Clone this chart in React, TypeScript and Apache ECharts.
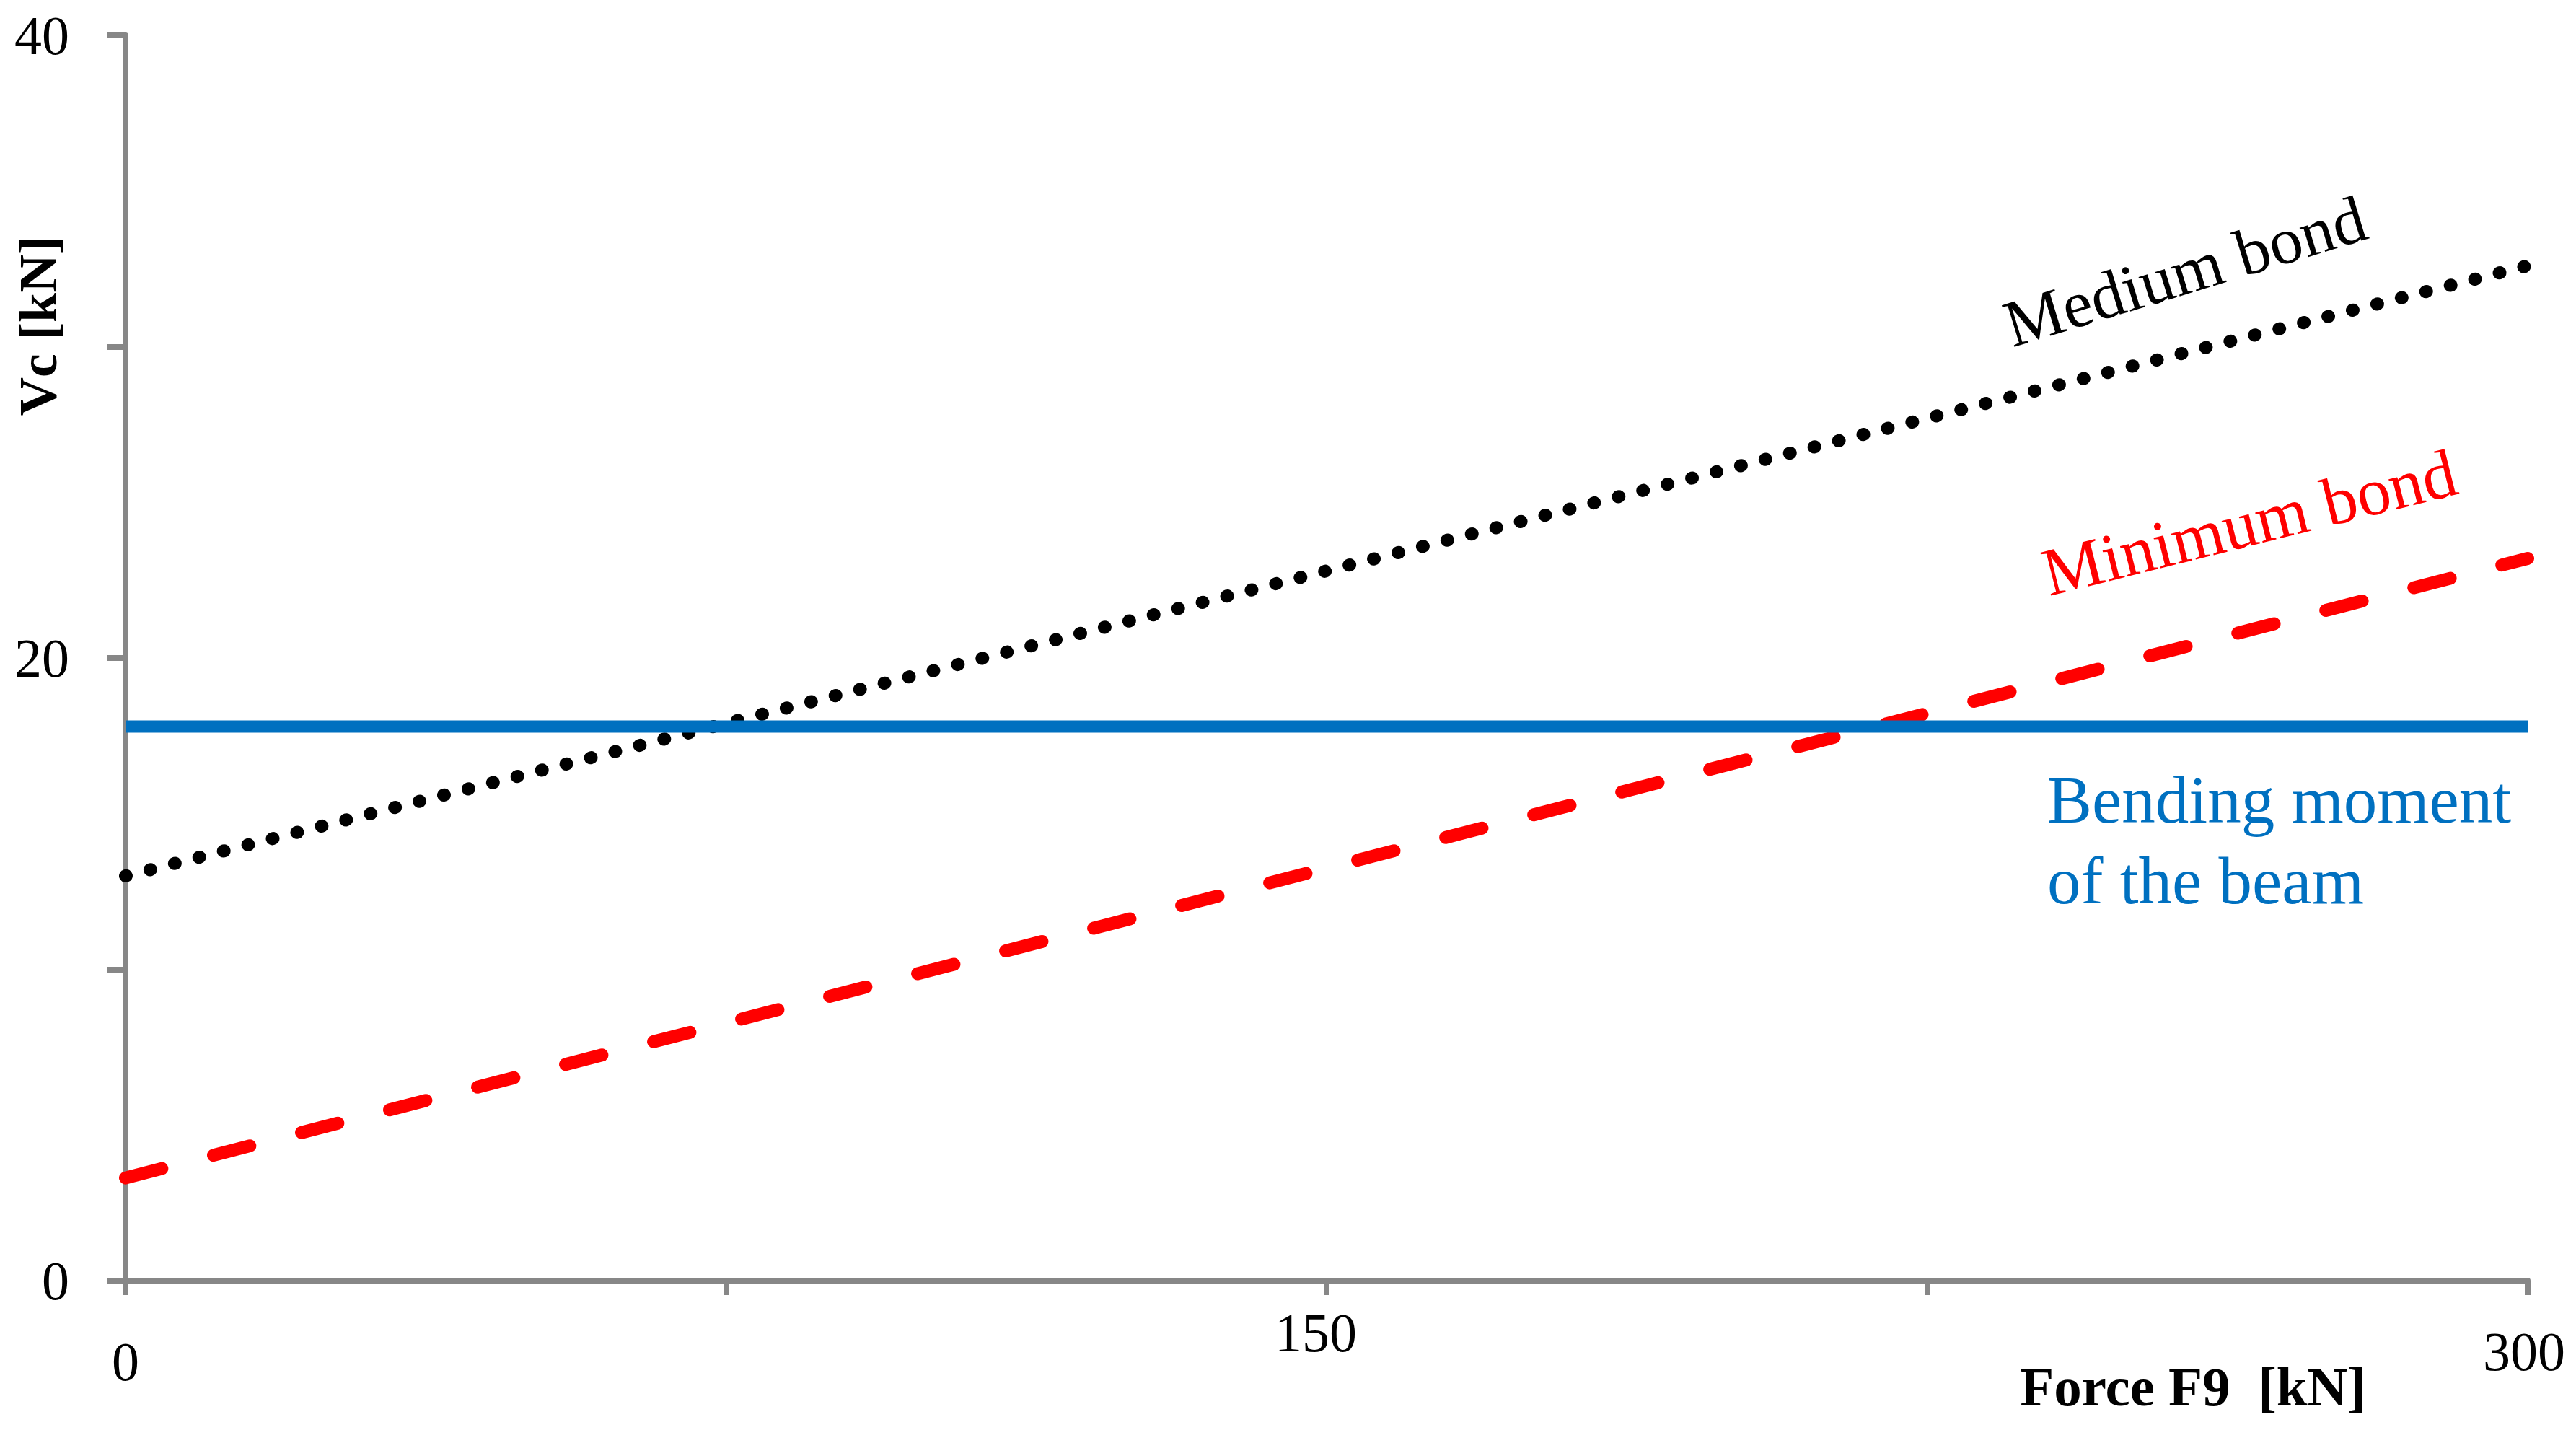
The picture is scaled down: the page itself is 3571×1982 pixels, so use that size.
import React, { useEffect, useRef } from "react";
import * as echarts from "echarts";

const forceF9 = [0, 300];
const bendingMoment = [17.8, 17.8];
const mediumBond = [13.0, 32.6];
const minimumBond = [3.3, 23.2];
const xTickLabels = ["0", "150", "300"];
const yTickLabels = ["0", "20", "40"];

const SERIF = '"Liberation Serif", "Times New Roman", serif';
const AXIS_GRAY = "#878787";
const BLUE = "#0070C0";
const RED = "#FF0000";

export default function App() {
  const ref = useRef<HTMLDivElement>(null);

  useEffect(() => {
    document.body.style.margin = "0";
    const chart = echarts.init(ref.current!, null, { renderer: "svg" });
    const pairs = (ys: number[]) => forceF9.map((x, i) => [x, ys[i]]);

    chart.setOption({
      animation: false,
      backgroundColor: "#ffffff",
      grid: { left: 174, right: 67, top: 49, bottom: 207, containLabel: false },
      xAxis: {
        type: "value",
        min: 0,
        max: 300,
        interval: 75,
        axisLine: { show: true, lineStyle: { color: AXIS_GRAY, width: 8 } },
        axisTick: { show: true, length: 20, lineStyle: { color: AXIS_GRAY, width: 8 } },
        splitLine: { show: false },
        axisLabel: {
          margin: 34,
          color: "#000",
          fontFamily: SERIF,
          fontSize: 76,
          formatter: (v: number) => {
            const s = String(v);
            if (!xTickLabels.includes(s)) return "";
            if (s === "0") return "{a|" + s + "}";
            if (s === "150") return "{b|" + s + "}";
            return "{c|" + s + "}";
          },
          rich: {
            a: { fontFamily: SERIF, fontSize: 76, color: "#000", padding: [40, 0, 0, 0] },
            b: { fontFamily: SERIF, fontSize: 76, color: "#000", padding: [0, 30, 0, 0] },
            c: { fontFamily: SERIF, fontSize: 76, color: "#000", padding: [26, 10, 0, 0] },
          },
        },
      },
      yAxis: {
        type: "value",
        min: 0,
        max: 40,
        interval: 10,
        axisLine: { show: true, lineStyle: { color: AXIS_GRAY, width: 8 } },
        axisTick: { show: true, length: 25, lineStyle: { color: AXIS_GRAY, width: 8 } },
        splitLine: { show: false },
        axisLabel: {
          margin: 78,
          color: "#000",
          fontFamily: SERIF,
          fontSize: 76,
          formatter: (v: number) => (yTickLabels.includes(String(v)) ? String(v) : ""),
        },
      },
      series: [
        {
          name: "Minimum bond",
          type: "line",
          data: pairs(minimumBond),
          showSymbol: false,
          symbol: "none",
          z: 2,
          lineStyle: { color: RED, width: 18, type: [52, 74], cap: "round" },
        },
        {
          name: "Medium bond",
          type: "line",
          data: pairs(mediumBond),
          showSymbol: false,
          symbol: "none",
          z: 3,
          lineStyle: { color: "#000", width: 18, type: [1, 34], cap: "round" },
        },
        {
          name: "Bending moment of the beam",
          type: "line",
          data: pairs(bendingMoment),
          showSymbol: false,
          symbol: "none",
          z: 4,
          lineStyle: { color: BLUE, width: 17, type: "solid" },
        },
      ],
      graphic: [
        {
          type: "text",
          x: 53,
          y: 452,
          rotation: Math.PI / 2,
          style: {
            text: "Vc [kN]",
            fill: "#000",
            fontFamily: SERIF,
            fontWeight: "bold",
            fontSize: 74,
            align: "center",
            verticalAlign: "middle",
          },
        },
        {
          type: "text",
          x: 3040,
          y: 1922,
          style: {
            text: "Force F9  [kN]",
            fill: "#000",
            fontFamily: SERIF,
            fontWeight: "bold",
            fontSize: 77,
            align: "center",
            verticalAlign: "middle",
          },
        },
        {
          type: "text",
          x: 3029,
          y: 376,
          rotation: (17 * Math.PI) / 180,
          style: {
            text: "Medium bond",
            fill: "#000",
            fontFamily: SERIF,
            fontSize: 92,
            align: "center",
            verticalAlign: "middle",
          },
        },
        {
          type: "text",
          x: 3118,
          y: 724,
          rotation: (14 * Math.PI) / 180,
          style: {
            text: "Minimum bond",
            fill: RED,
            fontFamily: SERIF,
            fontSize: 94,
            align: "center",
            verticalAlign: "middle",
          },
        },
        {
          type: "text",
          x: 2838,
          y: 1108,
          style: {
            text: "Bending moment",
            fill: BLUE,
            fontFamily: SERIF,
            fontSize: 93,
            align: "left",
            verticalAlign: "middle",
          },
        },
        {
          type: "text",
          x: 2838,
          y: 1220,
          style: {
            text: "of the beam",
            fill: BLUE,
            fontFamily: SERIF,
            fontSize: 93,
            align: "left",
            verticalAlign: "middle",
          },
        },
      ],
    });

    return () => chart.dispose();
  }, []);

  return (
    <div
      ref={ref}
      style={{ position: "absolute", left: 0, top: 0, width: 3571, height: 1982 }}
    />
  );
}
